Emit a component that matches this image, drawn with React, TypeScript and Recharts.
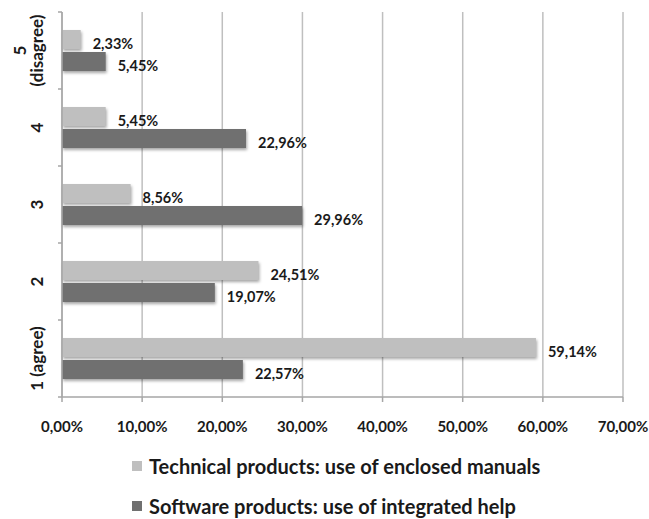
import React from "react";
import { BarChart, Bar, XAxis, YAxis, CartesianGrid, Legend, LabelList } from "recharts";

const categories = ["5 (disagree)", "4", "3", "2", "1 (agree)"];
const technicalManuals = [2.33, 5.45, 8.56, 24.51, 59.14];
const softwareHelp = [5.45, 22.96, 29.96, 19.07, 22.57];
const xTicks = [0, 10, 20, 30, 40, 50, 60, 70];
const seriesNames = ["Technical products: use of enclosed manuals", "Software products: use of integrated help"];
const seriesColors = ["#bfbfbf", "#707070"];

const data = categories.map((c, i) => ({ cat: c, tech: technicalManuals[i], soft: softwareHelp[i] }));

const W = 649;
const H = 519;
const MARGIN = { top: 12, right: 26, bottom: 0, left: 0 };
const LEGEND_H = 92;
const XAXIS_H = 30;
const PLOT_H = H - MARGIN.top - MARGIN.bottom - LEGEND_H - XAXIS_H;
const BAND = PLOT_H / categories.length;

const FONT = "Lato, 'Open Sans', sans-serif";
const TEXT = "#1a1a1a";
const AXIS = "#a6a6a6";
const GRID = "#bfbfbf";

const fmt = (v: number) => v.toFixed(2).replace(".", ",") + "%";

const YTick = (props: any) => {
  const { x, y, payload, index } = props;
  const label: string = payload.value;
  const parts = label === "5 (disagree)" ? ["5", "(disagree)"] : [label];
  const isLast = index === categories.length - 1;
  return (
    <g>
      <line x1={x - 4} x2={x} y1={y - BAND / 2} y2={y - BAND / 2} stroke={AXIS} strokeWidth={1.5} />
      {isLast && <line x1={x - 4} x2={x} y1={y + BAND / 2} y2={y + BAND / 2} stroke={AXIS} strokeWidth={1.5} />}
      <text
        transform={`translate(${x - 25},${y}) rotate(-90)`}
        textAnchor="middle"
        fontFamily={FONT}
        fontWeight={700}
        fontSize={17}
        fill={TEXT}
      >
        {parts.length === 1 ? (
          <tspan x={0} dy="0.35em">{parts[0]}</tspan>
        ) : (
          <>
            <tspan x={0} dy={-11}>{parts[0]}</tspan>
            <tspan x={0} dy={17}>{parts[1]}</tspan>
          </>
        )}
      </text>
    </g>
  );
};

const ShadowBar = (props: any) => {
  const { x, y, width, height, fill } = props;
  if (!width || width <= 0) return null;
  return (
    <rect
      x={x}
      y={y}
      width={width}
      height={height}
      fill={fill}
      style={{ filter: "drop-shadow(1.5px 2px 1.5px rgba(0,0,0,0.35))" }}
    />
  );
};

const ValueLabel = (props: any) => {
  const { x, y, width, height, value } = props;
  return (
    <text
      x={x + width + 12}
      y={y + height / 2 + 4}
      dy="0.35em"
      fontFamily={FONT}
      fontWeight={700}
      fontSize={14.5}
      fill={TEXT}
    >
      {fmt(value)}
    </text>
  );
};

const LegendContent = () => (
  <div style={{ height: LEGEND_H, position: "relative", fontFamily: FONT, fontWeight: 700, fontSize: 20, color: TEXT }}>
    {seriesNames.map((n, i) => (
      <div
        key={n}
        style={{
          position: "absolute",
          left: 0,
          top: 19 + i * 40,
          height: 40,
          display: "flex",
          alignItems: "center",
          whiteSpace: "nowrap",
        }}
      >
        <span
          style={{
            display: "inline-block",
            width: 10,
            height: 10,
            background: seriesColors[i],
            marginRight: 7,
          }}
        />
        <span>{n}</span>
      </div>
    ))}
  </div>
);

export default function App() {
  return (
    <div style={{ position: "absolute", left: 0, top: 0, width: W, height: H, background: "#fff" }}>
      <BarChart
        width={W}
        height={H}
        data={data}
        layout="vertical"
        margin={MARGIN}
        barSize={19}
        barGap={3}
      >
        <CartesianGrid horizontal={false} vertical={true} stroke={GRID} strokeWidth={1.5} />
        <XAxis
          type="number"
          domain={[0, 70]}
          ticks={xTicks}
          tickFormatter={fmt}
          height={XAXIS_H}
          stroke={AXIS}
          strokeWidth={1.5}
          tickSize={5}
          tickMargin={19}
          tick={{ fontFamily: FONT, fontWeight: 700, fontSize: 15, fill: TEXT }}
          interval={0}
        />
        <YAxis
          type="category"
          dataKey="cat"
          width={62}
          stroke={AXIS}
          strokeWidth={1.5}
          tickLine={false}
          tickSize={0}
          tickMargin={0}
          tick={<YTick />}
          interval={0}
        />
        <Legend
          verticalAlign="bottom"
          align="left"
          layout="horizontal"
          wrapperStyle={{ left: 132, width: 500 }}
          content={<LegendContent />}
        />
        <Bar dataKey="tech" name={seriesNames[0]} fill={seriesColors[0]} isAnimationActive={false} shape={<ShadowBar />}>
          <LabelList dataKey="tech" content={<ValueLabel />} />
        </Bar>
        <Bar dataKey="soft" name={seriesNames[1]} fill={seriesColors[1]} isAnimationActive={false} shape={<ShadowBar />}>
          <LabelList dataKey="soft" content={<ValueLabel />} />
        </Bar>
      </BarChart>
    </div>
  );
}
